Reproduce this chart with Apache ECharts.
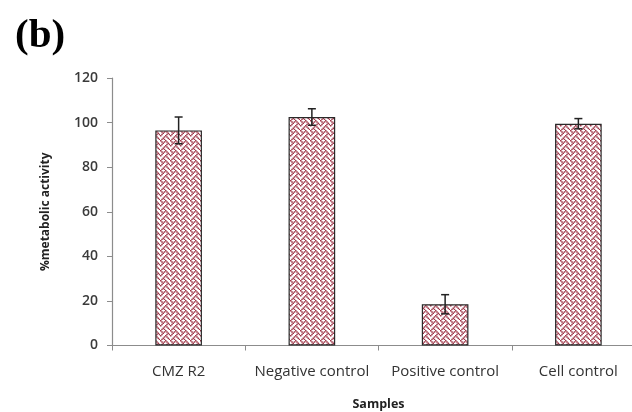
<!DOCTYPE html>
<html>
<head>
<meta charset="utf-8">
<script src="https://cdn.jsdelivr.net/npm/echarts@6/dist/echarts.min.js"></script>
<style>html,body{margin:0;padding:0;background:#fff;}#c{width:632px;height:412px;}</style>
</head>
<body>
<div id="c"></div>
<script>
const categories = ['CMZ R2', 'Negative control', 'Positive control', 'Cell control'];
const values = [96.5, 102.5, 18.5, 99.5];
const errors = [6, 3.7, 4.3, 2.3];
const yTicks = [0, 20, 40, 60, 80, 100, 120];

function makePattern() {
  const bits = [0x88, 0x54, 0x22, 0x45, 0x88, 0x14, 0x22, 0x51];
  const s = 1.25;
  const c = document.createElement('canvas');
  c.width = 10; c.height = 10;
  const g = c.getContext('2d');
  g.fillStyle = '#ffffff';
  g.fillRect(0, 0, 10, 10);
  g.fillStyle = '#9e3548';
  for (let r = 0; r < 8; r++) {
    for (let k = 0; k < 8; k++) {
      if (bits[r] & (0x80 >> k)) g.fillRect(k * s, r * s, 1.5, 1.5);
    }
  }
  return c;
}

const chart = echarts.init(document.getElementById('c'), null, {renderer: 'canvas'});
const errData = categories.map((c, i) => [i, values[i] - errors[i], values[i] + errors[i]]);

chart.setOption({
  animation: false,
  backgroundColor: '#fff',
  title: {
    text: '(b)', left: 10, top: 11,
    textStyle: {fontFamily: 'Liberation Serif', fontWeight: 'bold', fontSize: 41, color: '#000'}
  },
  grid: {left: 112, width: 533, top: 78, height: 267.5, outerBoundsMode: 'none', containLabel: false},
  xAxis: {
    type: 'category', data: categories,
    name: 'Samples', nameLocation: 'middle', nameGap: 52,
    nameTextStyle: {fontFamily: 'Open Sans', fontWeight: 'bold', fontSize: 12.5, color: '#222'},
    axisLine: {lineStyle: {color: '#8c8c8c', width: 1.2}},
    axisTick: {show: true, length: 5, lineStyle: {color: '#8c8c8c'}},
    axisLabel: {interval: 0, hideOverlap: false, margin: 19, fontFamily: 'Open Sans', fontSize: 15, color: '#333'}
  },
  yAxis: {
    type: 'value', min: 0, max: 120, interval: 20,
    name: '%metabolic activity', nameLocation: 'middle', nameGap: 60,
    nameTextStyle: {fontFamily: 'Open Sans', fontWeight: 'bold', fontSize: 12, color: '#222'},
    axisLine: {show: true, lineStyle: {color: '#8c8c8c', width: 1.2}},
    axisTick: {show: true, length: 5, lineStyle: {color: '#8c8c8c'}},
    splitLine: {show: false},
    axisLabel: {margin: 14, fontFamily: 'Open Sans', fontWeight: 600, fontSize: 14, color: '#3a3a3a',
      formatter: v => yTicks.includes(v) ? String(v) : ''}
  },
  series: [
    {
      type: 'bar', data: values, barWidth: '35%',
      itemStyle: {color: {image: makePattern(), repeat: 'repeat'}, borderColor: '#2a2a2a', borderWidth: 1.2}
    },
    {
      type: 'custom', data: errData,
      renderItem: function (params, api) {
        const x = api.value(0);
        const lo = api.coord([x, api.value(1)]);
        const hi = api.coord([x, api.value(2)]);
        const hw = 4;
        const st = {stroke: '#222', lineWidth: 1.5};
        return {type: 'group', children: [
          {type: 'line', shape: {x1: lo[0], y1: lo[1], x2: hi[0], y2: hi[1]}, style: st},
          {type: 'line', shape: {x1: hi[0] - hw, y1: hi[1], x2: hi[0] + hw, y2: hi[1]}, style: st},
          {type: 'line', shape: {x1: lo[0] - hw, y1: lo[1], x2: lo[0] + hw, y2: lo[1]}, style: st}
        ]};
      },
      z: 10
    }
  ]
});
</script>
</body>
</html>
